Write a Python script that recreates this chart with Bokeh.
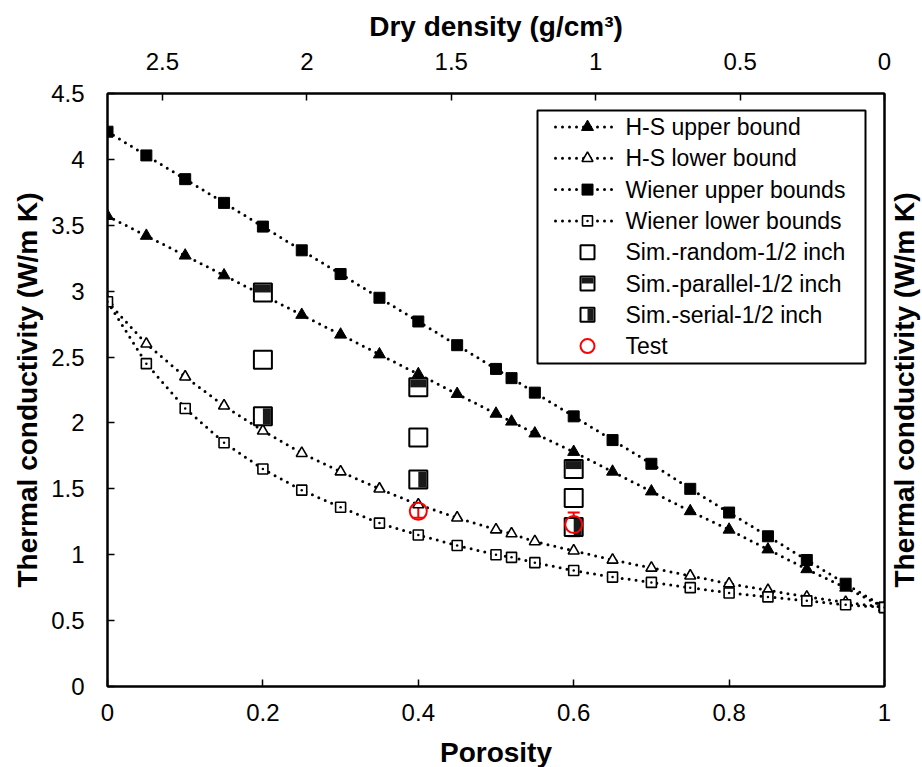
import math
from bokeh.plotting import figure
from bokeh.models import (Range1d, LinearAxis, FixedTicker, CustomJSTickFormatter,
                          ColumnDataSource, Whisker, TeeHead, Label)
from bokeh.transform import dodge
from bokeh.core.properties import value
from bokeh.embed import file_html
from bokeh.resources import INLINE

# ---------------- data ----------------
porosity = [0, 0.05, 0.1, 0.15, 0.2, 0.25, 0.3, 0.35, 0.4, 0.45, 0.5, 0.52,
            0.55, 0.6, 0.65, 0.7, 0.75, 0.8, 0.85, 0.9, 0.95, 1.0]
hs_upper = [3.57, 3.42, 3.27, 3.12, 2.97, 2.82, 2.67, 2.52, 2.37, 2.22, 2.07, 2.01,
            1.92, 1.78, 1.63, 1.48, 1.33, 1.19, 1.04, 0.89, 0.75, 0.60]
hs_lower = [2.92, 2.60, 2.35, 2.13, 1.94, 1.77, 1.63, 1.50, 1.38, 1.28, 1.19, 1.16,
            1.10, 1.03, 0.96, 0.90, 0.84, 0.78, 0.73, 0.68, 0.64, 0.60]
wiener_upper = [4.21, 4.03, 3.85, 3.67, 3.49, 3.31, 3.13, 2.95, 2.77, 2.59, 2.41, 2.34,
                2.23, 2.05, 1.87, 1.69, 1.50, 1.32, 1.14, 0.96, 0.78, 0.60]
wiener_lower = [2.92, 2.45, 2.11, 1.85, 1.65, 1.49, 1.36, 1.24, 1.15, 1.07, 1.00, 0.98,
                0.94, 0.88, 0.83, 0.79, 0.75, 0.71, 0.68, 0.65, 0.62, 0.60]

sim_random_x = [0.2, 0.4, 0.6]
sim_random_y = [2.48, 1.89, 1.43]
sim_parallel_x = [0.2, 0.4, 0.6]
sim_parallel_y = [2.99, 2.27, 1.65]
sim_serial_x = [0.2, 0.4, 0.6]
sim_serial_y = [2.05, 1.57, 1.21]

test_x = [0.4, 0.6]
test_y = [1.33, 1.23]
test_err = [0.05, 0.09]

x_ticks = [0, 0.2, 0.4, 0.6, 0.8, 1]
x_tick_labels = ["0", "0.2", "0.4", "0.6", "0.8", "1"]
y_ticks = [0, 0.5, 1, 1.5, 2, 2.5, 3, 3.5, 4, 4.5]
y_tick_labels = ["0", "0.5", "1", "1.5", "2", "2.5", "3", "3.5", "4", "4.5"]
density_ticks = [2.5, 2, 1.5, 1, 0.5, 0]
density_tick_labels = ["2.5", "2", "1.5", "1", "0.5", "0"]
density_max = 2.69

y_title = "Thermal conductivity (W/m K)"
legend_labels = ["H-S upper bound", "H-S lower bound", "Wiener upper bounds",
                 "Wiener lower bounds", "Sim.-random-1/2 inch",
                 "Sim.-parallel-1/2 inch", "Sim.-serial-1/2 inch", "Test"]

# ---------------- layout ----------------
FW, FH = 777, 593
FONT = "Liberation Sans"
Y0, Y1 = 0, 4.5
X0, X1 = 0, 1

p = figure(width=922, height=767, frame_width=FW, frame_height=FH,
           output_backend="svg", toolbar_location=None,
           x_range=Range1d(X0, X1), y_range=Range1d(Y0, Y1),
           min_border_left=107, min_border_right=38,
           min_border_top=93, min_border_bottom=81)
p.background_fill_color = "white"
p.border_fill_color = "white"
p.outline_line_color = "black"
p.outline_line_width = 2
p.xgrid.visible = False
p.ygrid.visible = False
p.extra_x_ranges = {"density": Range1d(density_max, 0), "lx": Range1d(0, FW)}
p.extra_y_ranges = {"ly": Range1d(0, FH)}


def fmt(tks, lbls):
    return CustomJSTickFormatter(args=dict(tks=tks, lbls=lbls), code="""
        const i = tks.findIndex(t => Math.abs(t - tick) < 1e-9);
        return i >= 0 ? lbls[i] : '';
    """)


def style(ax, standoff):
    ax.axis_line_color = "black"
    ax.axis_line_width = 2
    ax.major_tick_in = 7
    ax.major_tick_out = 0
    ax.major_tick_line_width = 1.5
    ax.major_tick_line_color = "black"
    ax.minor_tick_line_color = None
    ax.major_label_text_font = FONT
    ax.major_label_text_font_size = "24px"
    ax.major_label_text_color = "black"
    ax.major_label_standoff = standoff
    ax.axis_label_text_font = FONT
    ax.axis_label_text_font_size = "28px"
    ax.axis_label_text_font_style = "bold"
    ax.axis_label_text_color = "black"


xa = p.xaxis[0]
xa.ticker = FixedTicker(ticks=x_ticks)
xa.formatter = fmt(x_ticks, x_tick_labels)
xa.axis_label = "Porosity"
style(xa, 17)
xa.axis_label_standoff = 13

ya = p.yaxis[0]
ya.ticker = FixedTicker(ticks=y_ticks)
ya.formatter = fmt(y_ticks, y_tick_labels)
ya.axis_label = y_title
style(ya, 23)
ya.axis_label_standoff = 5

top = LinearAxis(x_range_name="density", ticker=FixedTicker(ticks=density_ticks),
                 formatter=fmt(density_ticks, density_tick_labels),
                 axis_label="Dry density (g/cm³)")
style(top, 24)
top.axis_label_standoff = 8
p.add_layout(top, "above")

right = LinearAxis(ticker=FixedTicker(ticks=[]))
style(right, 0)
right.major_tick_in = 0
p.add_layout(right, "right")

# right-hand title, reading bottom-to-top like the left one
p.add_layout(Label(x=20, y=FH / 2, x_units="screen", y_units="screen",
                   text=y_title, angle=math.pi / 2, text_align="center",
                   text_baseline="middle", text_font=FONT, text_font_size="28px",
                   text_font_style="bold", text_color="black"), "right")

# ---------------- bound curves ----------------
DOT = dict(line_dash="0 7", line_cap="round", line_width=3, line_color="black")
series = [
    (hs_upper, "triangle", "black", 12, 1),
    (hs_lower, "triangle", "white", 11, 1.6),
    (wiener_upper, "square", "black", 11, 1),
    (wiener_lower, "square_dot", "white", 10, 1.6),
]
for ys, mk, fc, sz, lw in series:
    p.line(porosity, ys, **DOT)
    p.scatter(porosity, ys, marker=mk, size=sz, fill_color=fc,
              line_color="black", line_width=lw)

# ---------------- simulation markers ----------------
SQ = 18
HALF = 4.0  # px offset of the dark half
dy = HALF * (Y1 - Y0) / FH
dx = HALF * (X1 - X0) / FW

p.scatter(sim_random_x, sim_random_y, marker="square", size=SQ,
          fill_color="white", line_color="black", line_width=2)

src_par = ColumnDataSource(dict(x=sim_parallel_x, y=sim_parallel_y))
p.scatter("x", "y", source=src_par, marker="square", size=SQ,
          fill_color="white", line_color="black", line_width=2)
p.rect(x="x", y=dodge("y", dy), source=src_par, width=SQ - 2, height=(SQ - 2) / 2,
       width_units="screen", height_units="screen", fill_color="#1a1a1a", line_color=None)

src_ser = ColumnDataSource(dict(x=sim_serial_x, y=sim_serial_y))
p.scatter("x", "y", source=src_ser, marker="square", size=SQ,
          fill_color="white", line_color="black", line_width=2)
p.rect(x=dodge("x", dx), y="y", source=src_ser, width=(SQ - 2) / 2, height=SQ - 2,
       width_units="screen", height_units="screen", fill_color="#1a1a1a", line_color=None)

# ---------------- test data ----------------
src_t = ColumnDataSource(dict(
    x=test_x, y=test_y,
    lo=[a - b for a, b in zip(test_y, test_err)],
    hi=[a + b for a, b in zip(test_y, test_err)]))
wh = Whisker(base="x", lower="lo", upper="hi", source=src_t, line_color="red", line_width=2,
             upper_head=TeeHead(size=12, line_color="red", line_width=2),
             lower_head=TeeHead(size=12, line_color="red", line_width=2))
p.add_layout(wh)
p.scatter("x", "y", source=src_t, marker="circle", size=17, fill_color=None,
          line_color="red", line_width=2)

# ---------------- legend (frame pixel coordinates) ----------------
L = dict(x_range_name="lx", y_range_name="ly")
p.quad(left=430, right=758, bottom=323, top=576, fill_color="white",
       line_color="black", line_width=2, **L)
row_y = [559.5 - i * 31.3 for i in range(8)]
mx = 480
for i, (ys, mk, fc, sz, lw) in enumerate(series):
    p.line([448, 508], [row_y[i], row_y[i]], **DOT, **L)
    p.scatter([mx], [row_y[i]], marker=mk, size=sz, fill_color=fc,
              line_color="black", line_width=lw, **L)
LS = 14
p.scatter([mx], [row_y[4]], marker="square", size=LS, fill_color="white",
          line_color="black", line_width=2, **L)
p.scatter([mx], [row_y[5]], marker="square", size=LS, fill_color="white",
          line_color="black", line_width=2, **L)
p.rect([mx], [row_y[5] + (LS - 2) / 4], width=LS - 2, height=(LS - 2) / 2,
       fill_color="#1a1a1a", line_color=None, **L)
p.scatter([mx], [row_y[6]], marker="square", size=LS, fill_color="white",
          line_color="black", line_width=2, **L)
p.rect([mx + (LS - 2) / 4], [row_y[6]], width=(LS - 2) / 2, height=LS - 2,
       fill_color="#1a1a1a", line_color=None, **L)
p.scatter([mx], [row_y[7]], marker="circle", size=14, fill_color=None,
          line_color="red", line_width=2, **L)
p.text(x=[518] * 8, y=row_y, text=legend_labels, text_font=value(FONT),
       text_font_size="23px", text_baseline="middle", text_align="left",
       text_color="black", **L)

open("out.html", "w").write(file_html(p, INLINE))
